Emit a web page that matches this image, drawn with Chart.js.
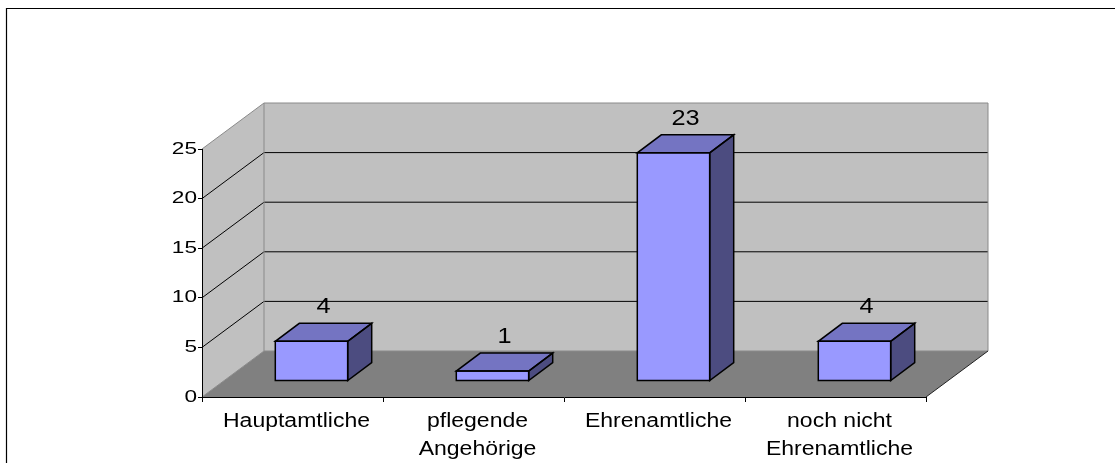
<!DOCTYPE html>
<html>
<head>
<meta charset="utf-8">
<script src="https://cdn.jsdelivr.net/npm/chart.js@4/dist/chart.umd.min.js"></script>
<style>
  html, body { margin: 0; padding: 0; background: #fff; overflow: hidden; }
  #wrap { width: 1115px; height: 463px; position: relative; }
</style>
</head>
<body>
<div id="wrap"><canvas id="c" width="1115" height="463"></canvas></div>
<script>
// ---- data ----
const categories = [['Hauptamtliche'], ['pflegende', 'Angehörige'], ['Ehrenamtliche'], ['noch nicht', 'Ehrenamtliche']];
const counts = [4, 1, 23, 4];
const valueTicks = [0, 5, 10, 15, 20, 25];

// ---- look ----
const FONT = '"Liberation Sans", Arial, Helvetica, sans-serif';
const WALL_DEPTH = { x: 62, y: -46 };   // back plane offset from the front plane
const BAR_FRONT = { x: 19, y: -16 };    // front face of the boxes, pushed into the depth
const BAR_DEPTH = { x: 24, y: -18 };    // thickness of each box
const LABEL_LIFT = -25;                 // value label above the centre of the top face
const TICK_SIZE = 17;
const STRETCH_TICK = 1.33;
const STRETCH_TEXT = 1.15;
const COLORS = {
  wall: '#C0C0C0', floor: '#808080', edge: '#8A8A8A', grid: '#000000',
  front: '#9999FF', top: '#7474C2', side: '#4C4C80', outline: '#000000'
};

const canvas = document.getElementById('c');
const ctx2d = canvas.getContext('2d');

// Wide Arial look: glyphs stretched horizontally around their anchor point.
const baseFillText = ctx2d.fillText.bind(ctx2d);
ctx2d.fillText = function (text, x, y) {
  const m = /(\d+(?:\.\d+)?)px/.exec(this.font);
  const size = m ? parseFloat(m[1]) : 12;
  const sx = size <= TICK_SIZE ? STRETCH_TICK : STRETCH_TEXT;
  this.save();
  this.translate(x, y);
  this.scale(sx, 1);
  baseFillText(text, 0, 0);
  this.restore();
};

function fillPoly(ctx, pts, color) {
  ctx.beginPath();
  ctx.moveTo(pts[0][0], pts[0][1]);
  for (let i = 1; i < pts.length; i++) ctx.lineTo(pts[i][0], pts[i][1]);
  ctx.closePath();
  ctx.fillStyle = color;
  ctx.fill();
}
function strokePath(ctx, pts, color, width, close) {
  ctx.beginPath();
  ctx.moveTo(pts[0][0], pts[0][1]);
  for (let i = 1; i < pts.length; i++) ctx.lineTo(pts[i][0], pts[i][1]);
  if (close) ctx.closePath();
  ctx.strokeStyle = color;
  ctx.lineWidth = width;
  ctx.stroke();
}

// Walls, floor, frame and the gridlines running over the walls.
const scenePlugin = {
  id: 'scene',
  beforeDraw(chart) {
    const { ctx, chartArea: a, scales: { y } } = chart;
    const dx = WALL_DEPTH.x, dy = WALL_DEPTH.y;
    const y0 = y.getPixelForValue(y.min);
    const yT = y.getPixelForValue(y.max);
    const L = a.left, R = a.right;
    ctx.save();

    // outer frame (left and top edges)
    strokePath(ctx, [[6.5, chart.height], [6.5, 8.5], [chart.width, 8.5]], '#000', 1.2, false);

    // side wall, back wall, floor
    fillPoly(ctx, [[L, yT], [L + dx, yT + dy], [L + dx, y0 + dy], [L, y0]], COLORS.wall);
    fillPoly(ctx, [[L + dx, yT + dy], [R + dx, yT + dy], [R + dx, y0 + dy], [L + dx, y0 + dy]], COLORS.wall);
    fillPoly(ctx, [[L, y0], [R, y0], [R + dx, y0 + dy], [L + dx, y0 + dy]], COLORS.floor);

    // gridlines across the side wall and the back wall
    valueTicks.forEach(v => {
      if (v === y.min || v === y.max) return;
      const py = y.getPixelForValue(v);
      strokePath(ctx, [[L, py], [L + dx, py + dy], [R + dx, py + dy]], COLORS.grid, 1, false);
    });

    // wall edges
    strokePath(ctx, [[L, yT], [L + dx, yT + dy], [R + dx, yT + dy], [R + dx, y0 + dy]], COLORS.edge, 1, false);
    strokePath(ctx, [[L + dx, yT + dy], [L + dx, y0 + dy]], COLORS.edge, 1, false);
    strokePath(ctx, [[L, y0], [L + dx, y0 + dy], [R + dx, y0 + dy]], COLORS.edge, 1, false);
    strokePath(ctx, [[R, y0], [R + dx, y0 + dy]], '#222', 1, false);
    ctx.restore();
  },
  beforeDatasetsDraw(chart) {
    chart.ctx.save();
    chart.ctx.translate(BAR_FRONT.x, BAR_FRONT.y);
  },
  afterDatasetsDraw(chart) {
    const ctx = chart.ctx;
    ctx.restore();
    ctx.save();
    const meta = chart.getDatasetMeta(0);
    const bx = BAR_DEPTH.x, by = BAR_DEPTH.y;
    meta.data.forEach(bar => {
      const p = bar.getProps(['x', 'y', 'base', 'width'], true);
      const l = p.x - p.width / 2 + BAR_FRONT.x;
      const r = p.x + p.width / 2 + BAR_FRONT.x;
      const t = p.y + BAR_FRONT.y;
      const b = p.base + BAR_FRONT.y;
      const topFace = [[l, t], [r, t], [r + bx, t + by], [l + bx, t + by]];
      const sideFace = [[r, t], [r + bx, t + by], [r + bx, b + by], [r, b]];
      fillPoly(ctx, topFace, COLORS.top);
      fillPoly(ctx, sideFace, COLORS.side);
      strokePath(ctx, topFace, COLORS.outline, 1.5, true);
      strokePath(ctx, sideFace, COLORS.outline, 1.5, true);
      strokePath(ctx, [[l, t], [r, t], [r, b], [l, b]], COLORS.outline, 1.5, true);
    });
    ctx.restore();
  },
  afterDraw(chart) {
    const ctx = chart.ctx;
    const meta = chart.getDatasetMeta(0);
    ctx.save();
    ctx.font = '22px ' + FONT;
    ctx.fillStyle = '#000';
    ctx.textAlign = 'center';
    ctx.textBaseline = 'middle';
    meta.data.forEach((bar, i) => {
      const p = bar.getProps(['x', 'y'], true);
      const cx = p.x + BAR_FRONT.x + BAR_DEPTH.x / 2;
      const cy = p.y + BAR_FRONT.y + BAR_DEPTH.y / 2 + LABEL_LIFT;
      ctx.fillText(String(counts[i]), cx, cy);
    });
    ctx.restore();
  }
};

new Chart(canvas, {
  type: 'bar',
  data: {
    labels: categories,
    datasets: [{
      data: counts,
      backgroundColor: COLORS.front,
      borderWidth: 0,
      barPercentage: 0.4,
      categoryPercentage: 1.0,
      clip: false
    }]
  },
  options: {
    responsive: false,
    animation: false,
    devicePixelRatio: 1,
    layout: { padding: { left: 0, top: 149, right: 189, bottom: 0 } },
    plugins: { legend: { display: false }, tooltip: { enabled: false } },
    scales: {
      x: {
        grid: { drawOnChartArea: false, drawTicks: true, tickLength: 5, color: '#000', offset: true },
        border: { color: '#000', width: 1 },
        ticks: {
          color: '#000', padding: 5, maxRotation: 0, autoSkip: false, labelOffset: 4,
          font: { family: FONT, size: 20, lineHeight: 1.43 }
        },
        afterFit(s) { s.height = 66; }
      },
      y: {
        min: valueTicks[0],
        max: valueTicks[valueTicks.length - 1],
        afterBuildTicks(s) { s.ticks = valueTicks.map(v => ({ value: v })); },
        grid: { drawOnChartArea: false, drawTicks: true, tickLength: 4, color: '#000' },
        border: { color: '#000', width: 1 },
        ticks: { color: '#000', padding: 1, font: { family: FONT, size: TICK_SIZE } },
        afterFit(s) { s.width = 202; }
      }
    }
  },
  plugins: [scenePlugin]
});
</script>
</body>
</html>
